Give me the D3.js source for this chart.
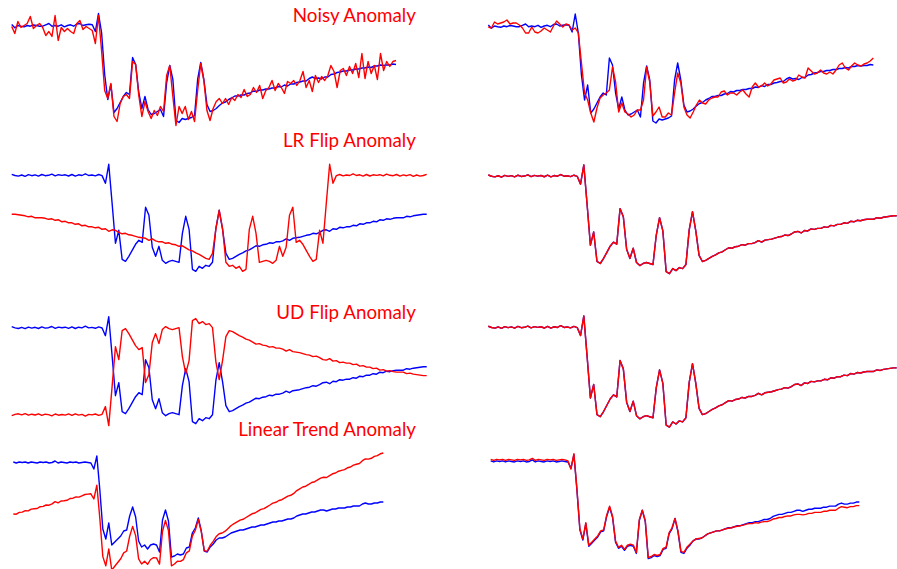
<!DOCTYPE html>
<html>
<head>
<meta charset="utf-8">
<script src="https://cdn.jsdelivr.net/npm/d3@7"></script>
<style>
  body { margin: 0; background: #fff; }
  svg { display: block; }
</style>
</head>
<body>
<div class="app"></div>
<script>
// Data: 125 samples per series, arbitrary units (flat level ~98, floor ~0)
const signalA = [100, 96.7, 99, 98.3, 97.7, 99, 98.3, 99.5, 99, 98.3, 98.3, 99.7, 101, 98.3, 99, 98.3, 99.7, 97.7, 99, 99.7,
  98.3, 100.5, 101, 99, 99.7, 100.3, 99.7,
  93, 111, 92, 50, 25, 40, 12, 16, 22, 28, 32, 30, 67, 60, 32, 16, 28, 15, 10, 11, 13, 15, 8, 42,
  59, 45, 4, 2, 6, 5, 6, 7, 9, 45, 62, 45, 20, 13, 14, 16,
  19, 21.5, 22.5, 25, 26.5, 28.5, 28.5, 29.5, 29.5, 31, 31.5, 33.5, 33, 34.5, 34.5, 35.5, 35.5, 36.5, 36.5, 38,
  37.5, 39.5, 38.5, 40.5, 40.5, 42, 42.5, 43.5, 43.5, 46, 47.5, 46, 46.5, 45.5, 47.5, 47.5, 50, 50.5, 52, 52.5,
  53.5, 53.5, 54.5, 54.5, 55.5, 55.5, 56.5, 56.5, 57.5, 57, 58.5, 58.5, 59.5, 59, 59.5, 59.5, 60.5, 60];

const signalB = [99, 97.8, 97.2, 98.3, 97, 98.6, 97.6, 98.4, 97.2, 98.8, 97.6, 98, 99.2, 97.4, 98.6, 97.9, 98.5, 97.3, 98.8, 97.2,
  98.5, 97.8, 99.5, 97.8, 98.3, 97.4, 98.8, 97.7,
  90, 109, 70, 30, 43, 14, 12, 17, 23, 29, 33, 31, 66, 58, 26, 17, 27, 13, 10, 12,
  13, 12, 11, 40, 57, 44, 4, 2, 7, 5, 8, 7, 11, 45, 63, 44, 20, 14, 15,
  17, 19, 20.5, 22.5, 23.5, 25.5, 27.5, 27, 28.5, 29, 30.5, 30, 31.5, 31.5, 32.5, 34.5, 33, 35, 35.5, 36,
  37, 38, 38.5, 40, 39.5, 41, 43, 43.5, 42, 44.5, 44, 46, 45.5, 46.5, 46.5, 48, 47.5, 49.5, 49, 50.5,
  50.5, 52, 51.5, 53.5, 53, 54.5, 54, 55, 55.5, 55.5, 55.5, 57, 56.5, 57.5, 58, 58.5, 59, 59];

const signalC = [99, 98, 99, 98.5, 99, 98, 99, 98.5, 98, 99, 98.5, 99, 98, 98.5, 100, 98, 99, 98.5, 98, 99,
  98.5, 99, 98, 98.5, 99, 98.5, 98,
  92, 105, 71, 32, 22, 38, 16, 19, 22, 25, 30, 31, 45, 54, 44, 20, 14, 16, 12, 16, 17, 16, 9, 41,
  51, 40, 4, 5, 7, 6, 7, 13, 14, 28, 33, 43, 30, 10, 9, 14,
  17, 21, 23, 23, 24, 26, 28, 29, 30, 31, 31, 32, 33, 34, 34, 35, 36, 36, 37, 38,
  39, 39, 40, 40, 41, 42, 42, 43, 45, 46, 47, 47, 48, 49, 49, 50, 51, 51, 50, 51,
  52, 52, 53, 53, 53, 54, 54, 55, 55, 55, 57, 58, 57, 57, 58, 58, 59, 59];

const noisyRed = [98, 91, 103, 97, 99, 101, 108, 96, 99, 101, 97, 89, 93, 88, 109, 84, 97, 93, 96, 93,
  91, 101, 104, 95, 98, 96, 94, 81, 109, 74, 34, 26, 41, 8, 3, 21, 28, 30, 26, 63,
  60, 29, 8, 23, 13, 6, 14, 9, 18, 13, 49, 59, 28, -1, 18, 11, 18, 5, 13, 3,
  34, 61, 44, 14, 4, 16, 23, 26, 21, 26, 20, 27, 24, 30, 27, 35, 28, 30, 37, 32,
  39, 26, 34, 37, 44, 34, 41, 37, 31, 43, 41, 44, 39, 44, 53, 37, 44, 33, 49, 42,
  48, 44, 49, 59, 53, 37, 54, 56, 49, 58, 51, 61, 47, 71, 46, 63, 51, 59, 45, 71,
  54, 63, 58, 63, 64];

const reconRed1 = [98, 97, 103, 101, 102, 103, 105, 101, 102, 102, 100, 97, 92, 92, 98, 93, 92, 94, 97, 95,
  93, 99, 104, 101, 98, 101, 100, 95, 97, 92, 62, 32, 25, 12, 3, 17, 27, 30, 32, 35,
  58, 43, 13, 22, 13, 11, 8, 10, 15, 15, 25, 58, 43, 9, 13, 18, 8, 8, 12, 10,
  32, 52, 42, 18, 10, 7, 13, 20, 25, 22, 21, 25, 27, 28, 28, 33, 34, 30, 32, 32,
  30, 33, 35, 31, 28, 38, 42, 38, 39, 42, 39, 41, 45, 46, 47, 42, 43, 46, 44, 45,
  50, 48, 47, 57, 54, 51, 52, 55, 52, 51, 53, 51, 55, 60, 62, 57, 55, 59, 62, 60,
  59, 61, 62, 64, 67];

const trendRed = [47, 46.8, 48.6, 48.9, 50.3, 50.1, 51.9, 52.2, 52.5, 54.3, 54.6, 56, 55.8, 57.1, 59.4, 58.2, 60, 60.3, 60.7, 62.5,
  62.8, 64.1, 63.9, 65.2, 66.5, 66.9, 67.2, 62, 75.8, 42.6, 4.4, -4.8, 12.1, -9.1, -5.3, -1.5, 2.3, 8.1, 10, 24.8,
  34.6, 25.4, 2.2, -3, -0.2, -3.3, 1.5, 3.3, 3.1, -3.1, 29.7, 40.5, 30.4, -4.8, -3, -0.2, -0.4, 1.4, 8.2, 10.1,
  24.9, 30.7, 41.5, 29.3, 10.1, 9.9, 15.8, 19.6, 24.4, 27.2, 28, 29.8, 32.6, 35.5, 37.3, 39.1, 40.9, 41.7, 43.5, 45.3,
  47.2, 48, 49.8, 51.6, 52.4, 54.2, 56, 57.9, 58.7, 60.5, 61.3, 63.1, 64.9, 65.7, 67.6, 70.4, 72.2, 74, 74.8, 76.6,
  78.5, 79.3, 81.1, 82.9, 83.7, 83.5, 85.3, 87.2, 88, 89.8, 90.6, 91.4, 93.2, 94, 95.9, 96.7, 97.5, 100.3, 102.1, 101.9,
  102.7, 104.6, 105.4, 107.2, 108];

const reconRed4 = [100.5, 99.5, 100.5, 100, 100.5, 99.5, 100.5, 100, 99.5, 100.5, 100, 100.5, 99.5, 100, 101.5, 99.5, 100.5, 100, 99.5, 100.5,
  100, 100.5, 99.5, 100, 100.5, 100, 99, 91, 106, 72, 33, 23, 39, 17, 20, 23, 26, 31, 32, 46,
  55, 45, 21, 15, 17, 13, 17, 18, 17, 10, 42, 51, 41, 5, 6, 8, 7, 8, 14, 15,
  29, 34, 43, 31, 11, 10, 15, 18, 21, 23, 23.5, 24, 26, 28, 29, 30, 31, 31, 32, 33,
  33.5, 34, 35, 35.5, 36, 36.5, 37.5, 38, 38, 39, 38.5, 39.5, 40, 40, 41, 42.5, 43, 44, 44, 45,
  45.5, 45.5, 46.5, 47, 47, 46.5, 47, 48, 48, 49, 49, 49, 50, 50, 51, 51, 51, 53, 54.5, 54,
  53.5, 54.5, 54.5, 55.5, 55.5];

const titles = ['Noisy Anomaly', 'LR Flip Anomaly', 'UD Flip Anomaly', 'Linear Trend Anomaly'];


// Layout
const width = 897;
const height = 569;
const BLUE = '#0000ff';
const RED = '#ff0000';

const panels = [
  { xRange: [11.7, 396], yRange: [124.5, 24.5], blue: signalA, red: noisyRed },
  { xRange: [11.7, 426.7], yRange: [273.3, 173.3], blue: signalB, red: signalB, redXRange: [426.7, 11.7] },
  { xRange: [11.7, 426.7], yRange: [425.7, 325.7], blue: signalB, red: signalB, redYRange: [316.6, 416.6] },
  { xRange: [13.3, 383.3], yRange: [561, 461], blue: signalC, red: trendRed },
  { xRange: [488.3, 873.3], yRange: [125, 25], blue: signalA, red: reconRed1 },
  { xRange: [488.3, 896.7], yRange: [275.7, 174], blue: signalB, red: signalB },
  { xRange: [488.3, 896.7], yRange: [429.2, 325.2], blue: signalB, red: signalB },
  { xRange: [490.7, 859.3], yRange: [562.7, 459.9], blue: signalC, red: reconRed4 }
];
const titleBaselines = [22, 147, 319, 436];

const svg = d3.select('.app')
  .append('svg')
  .attr('width', width)
  .attr('height', height)
  .attr('viewBox', [0, 0, width, height]);

const makeLine = (x, y) => d3.line()
  .x((d, i) => x(i))
  .y(d => y(d));

panels.forEach(p => {
  const x = d3.scaleLinear().domain([0, p.blue.length - 1]).range(p.xRange);
  const y = d3.scaleLinear().domain([0, 100]).range(p.yRange);
  // flipped panels reuse the signal with a mirrored scale
  const xRed = p.redXRange ? x.copy().range(p.redXRange) : x;
  const yRed = p.redYRange ? y.copy().range(p.redYRange) : y;

  const g = svg.append('g')
    .attr('fill', 'none')
    .attr('stroke-width', 1.4)
    .attr('stroke-linejoin', 'round');

  g.append('path')
    .datum(p.blue)
    .attr('stroke', BLUE)
    .attr('d', makeLine(x, y));

  g.append('path')
    .datum(p.red)
    .attr('stroke', RED)
    .attr('d', makeLine(xRed, yRed));
});

// Titles
const titleG = svg.append('g')
  .attr('font-family', 'Lato, "Open Sans", sans-serif')
  .attr('fill', RED)
  .attr('text-anchor', 'end');

const labels = titleG.selectAll('text')
  .data(titles)
  .join('text')
  .attr('x', 416)
  .attr('y', (d, i) => titleBaselines[i])
  .attr('font-size', 20)
  .text(d => d);

// fit the widest title to the width it has in the reference
const widest = labels.nodes()[3].getComputedTextLength();
labels.attr('font-size', 20 * 178 / widest);
</script>
</body>
</html>
